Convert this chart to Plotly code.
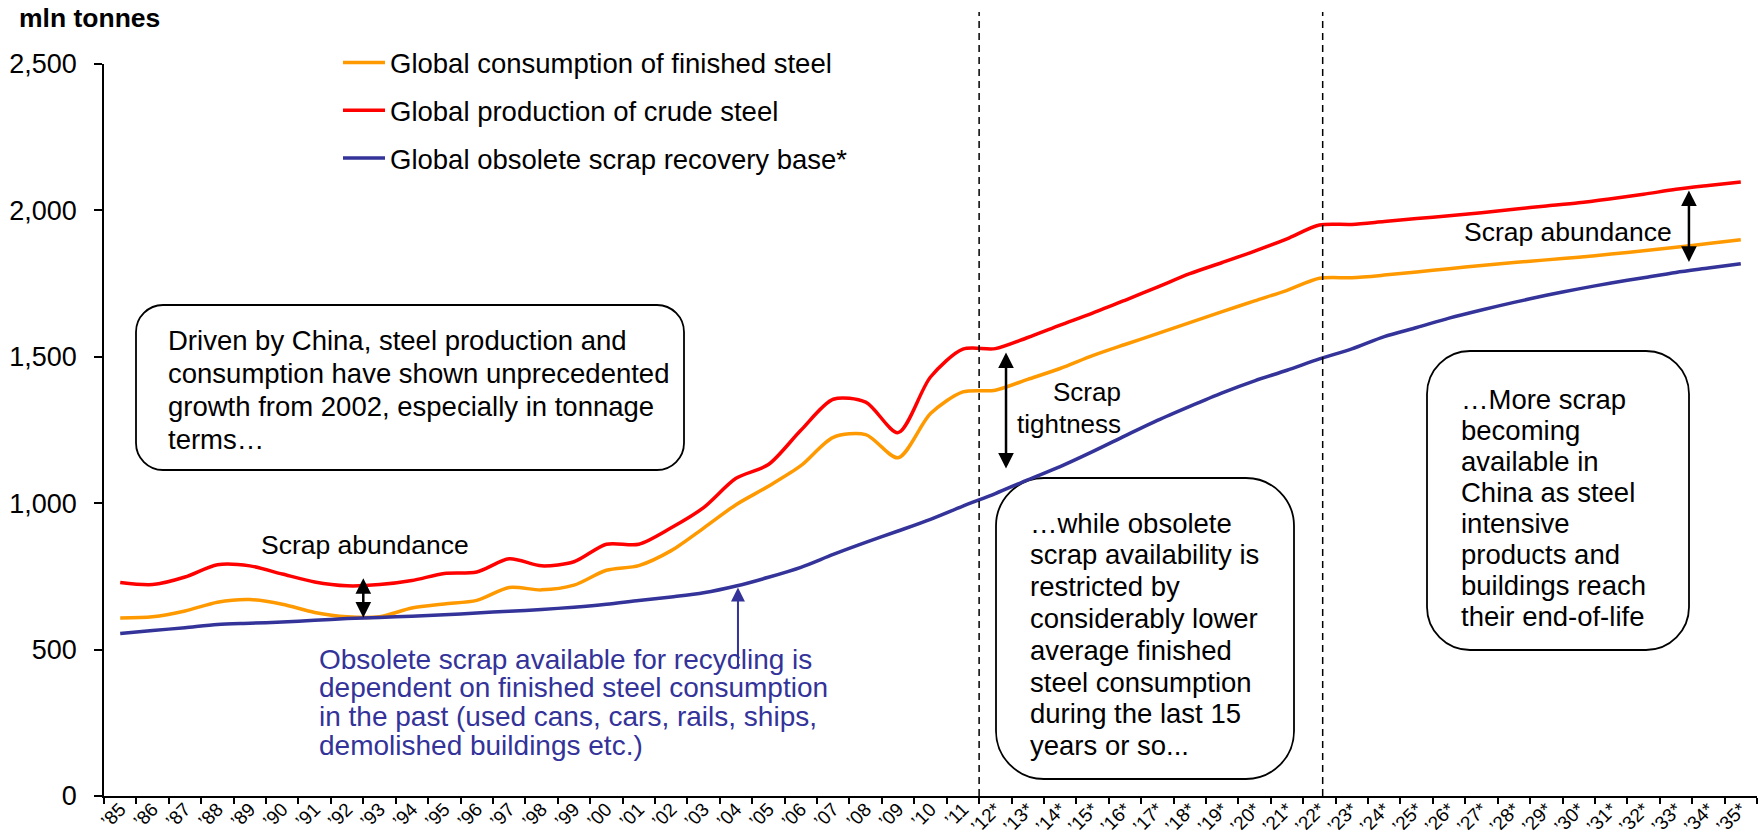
import plotly.graph_objects as go

# ----------------------------
# Data (mln tonnes)
# ----------------------------
years = list(range(1985, 2036))
tick_labels = ["\u2019" + str(y)[2:] + ("*" if y >= 2012 else "") for y in years]

consumption = [608, 612, 632, 662, 671, 655, 627, 612, 612, 642,
               656, 668, 712, 704, 720, 771, 787, 838, 915, 995,
               1058, 1128, 1225, 1234, 1155, 1306, 1380, 1386, 1423, 1460,
               1504, 1542, 1579, 1617, 1654, 1691, 1727, 1768, 1770, 1779,
               1790, 1801, 1812, 1822, 1831, 1840, 1851, 1862, 1874, 1887,
               1900]
production = [729, 722, 748, 790, 786, 758, 731, 718, 722, 736,
              760, 765, 810, 786, 800, 860, 860, 916, 985, 1085,
              1132, 1249, 1355, 1345, 1241, 1431, 1526, 1528, 1566, 1608,
              1649, 1693, 1738, 1784, 1822, 1861, 1903, 1950, 1952, 1962,
              1972, 1982, 1992, 2004, 2015, 2026, 2040, 2055, 2072, 2085,
              2097]
scrap_base = [555, 565, 575, 586, 590, 594, 600, 606, 610, 614,
              619, 625, 631, 637, 645, 655, 668, 680, 694, 717,
              747, 781, 825, 866, 905, 945, 990, 1033, 1080, 1125,
              1176, 1230, 1283, 1331, 1377, 1418, 1454, 1493, 1527, 1569,
              1600, 1632, 1660, 1686, 1710, 1732, 1752, 1770, 1788, 1803,
              1818]

series_names = ["Global consumption of finished steel",
                "Global production of crude steel",
                "Global obsolete scrap recovery base*"]
series_colors = ["#FF9900", "#FF0000", "#333399"]

FONT = "Liberation Sans, Arial, sans-serif"
W, H = 1762, 839
ML, MR, MT, MB = 104, 5, 64, 43
PW, PH = W - ML - MR, H - MT - MB


# pixel -> paper helpers for the call-outs
def px(x):
    return (x - ML) / PW


def py(y):
    return (H - MB - y) / PH


def rounded_box(x0, y0, x1, y1, r):
    k = 0.5523
    X0, X1, YT, YB = px(x0), px(x1), py(y0), py(y1)
    rx, ry = r / PW, r / PH
    return (f"M{X0+rx},{YT} L{X1-rx},{YT} "
            f"C{X1-rx+k*rx},{YT} {X1},{YT-ry+k*ry} {X1},{YT-ry} "
            f"L{X1},{YB+ry} "
            f"C{X1},{YB+ry-k*ry} {X1-rx+k*rx},{YB} {X1-rx},{YB} "
            f"L{X0+rx},{YB} "
            f"C{X0+rx-k*rx},{YB} {X0},{YB+ry-k*ry} {X0},{YB+ry} "
            f"L{X0},{YT-ry} "
            f"C{X0},{YT-ry+k*ry} {X0+rx-k*rx},{YT} {X0+rx},{YT} Z")


fig = go.Figure()
for i, (name, vals) in enumerate(zip(series_names, [consumption, production, scrap_base])):
    fig.add_trace(go.Scatter(
        x=years, y=vals, mode="lines", name=name, legendgroup=str(i),
        line=dict(color=series_colors[i], width=3.5, shape="spline", smoothing=0.8),
    ))

# ----------------------------
# Boxes and dashed separators
# ----------------------------
shapes = []
for (x0, y0, x1, y1, r) in [(136, 305, 684, 470, 27), (996, 478, 1294, 779, 48), (1427, 351, 1689, 650, 43)]:
    shapes.append(dict(type="path", xref="paper", yref="paper", path=rounded_box(x0, y0, x1, y1, r),
                       line=dict(color="black", width=1.8), fillcolor="white", layer="below"))
for xv in [2011.5, 2022.1]:
    shapes.append(dict(type="line", xref="x", yref="paper", x0=xv, x1=xv, y0=0, y1=py(12),
                       line=dict(color="black", width=1.5, dash="7px,5px")))

annotations = []


def add_lines(lines, x, y0, dy, anchor="left", color="black", size=27.5):
    for i, t in enumerate(lines):
        annotations.append(dict(xref="paper", yref="paper", x=px(x), y=py(y0 + i * dy),
                                xanchor=anchor, yanchor="middle", text=t, showarrow=False,
                                font=dict(family=FONT, size=size, color=color)))


annotations.append(dict(xref="paper", yref="paper", x=px(17), y=py(18), xanchor="left", yanchor="middle",
                        text="<b>mln tonnes</b>", showarrow=False,
                        font=dict(family=FONT, size=26.5, color="black")))

add_lines(["Driven by China, steel production and",
           "consumption have shown unprecedented",
           "growth from 2002, especially in tonnage",
           "terms\u2026"], 166, 340, 33.2)
add_lines(["\u2026while obsolete", "scrap availability is", "restricted by", "considerably lower",
           "average finished", "steel consumption", "during the last 15", "years or so..."],
          1028, 523, 31.8)
add_lines(["\u2026More scrap", "becoming", "available in", "China as steel", "intensive",
           "products and", "buildings reach", "their end-of-life"], 1459, 399, 31.1)
add_lines(["Scrap abundance"], 365, 545, 0, anchor="center", size=26.5)
add_lines(["Scrap abundance"], 1568, 232, 0, anchor="center", size=26.5)
add_lines(["Scrap", "tightness"], 1123, 392, 32, anchor="right", size=26)
add_lines(["Obsolete scrap available for recycling is",
           "dependent on finished steel consumption",
           "in the past (used cans, cars, rails, ships,",
           "demolished buildings etc.)"], 317, 659, 28.9, color="#333399", size=28)

# double-headed gap arrows: (x, top, bottom)
for (xa, ytop, ybot) in [(1992.5, 744, 604), (2012.33, 1515, 1113), (2033.4, 2068, 1819)]:
    annotations.append(dict(x=xa, y=ytop, ax=xa, ay=ybot, xref="x", yref="y", axref="x", ayref="y",
                            text="", showarrow=True, arrowhead=2, startarrowhead=2, arrowside="end+start",
                            arrowsize=1.25, startarrowsize=1.25, arrowwidth=2.5, arrowcolor="black"))
annotations.append(dict(x=2004.06, y=712, ax=2004.06, ay=430, xref="x", yref="y", axref="x", ayref="y",
                        text="", showarrow=True, arrowhead=2, arrowsize=1.4, arrowwidth=2,
                        arrowcolor="#333399"))

fig.update_layout(
    width=W, height=H,
    margin=dict(l=ML, r=MR, t=MT, b=MB),
    paper_bgcolor="white", plot_bgcolor="rgba(0,0,0,0)",
    font=dict(family=FONT, size=25, color="black"),
    showlegend=True,
    legend=dict(x=px(338), y=py(38), xanchor="left", yanchor="top", traceorder="grouped",
                tracegroupgap=9, itemwidth=42, bgcolor="rgba(0,0,0,0)",
                font=dict(family=FONT, size=27.5)),
    shapes=shapes,
    annotations=annotations,
)
fig.update_xaxes(
    range=[1984.5, 2035.5], tickmode="array", tickvals=years, ticktext=tick_labels,
    tickangle=-45, tickfont=dict(family=FONT, size=19), ticks="outside", ticklen=6,
    ticklabelstandoff=-13, automargin=False,
    tickcolor="rgba(0,0,0,0)", showgrid=False, zeroline=False,
    showline=True, linecolor="black", linewidth=1.5,
    minor=dict(tickvals=[y - 0.5 for y in years] + [years[-1] + 0.5], ticks="outside",
               ticklen=6, tickwidth=1.5, tickcolor="black", showgrid=False),
)
fig.update_yaxes(
    range=[0, 2500], tickvals=[0, 500, 1000, 1500, 2000, 2500], tickformat=",",
    ticks="outside", ticklen=8, tickwidth=1.5, tickcolor="black", ticklabelstandoff=12,
    tickfont=dict(family=FONT, size=27), showgrid=False, zeroline=False, automargin=False,
    showline=True, linecolor="black", linewidth=1.5,
)

fig.write_html("out.html", config={"displayModeBar": False},
               post_script="document.body.style.margin='0px';")
